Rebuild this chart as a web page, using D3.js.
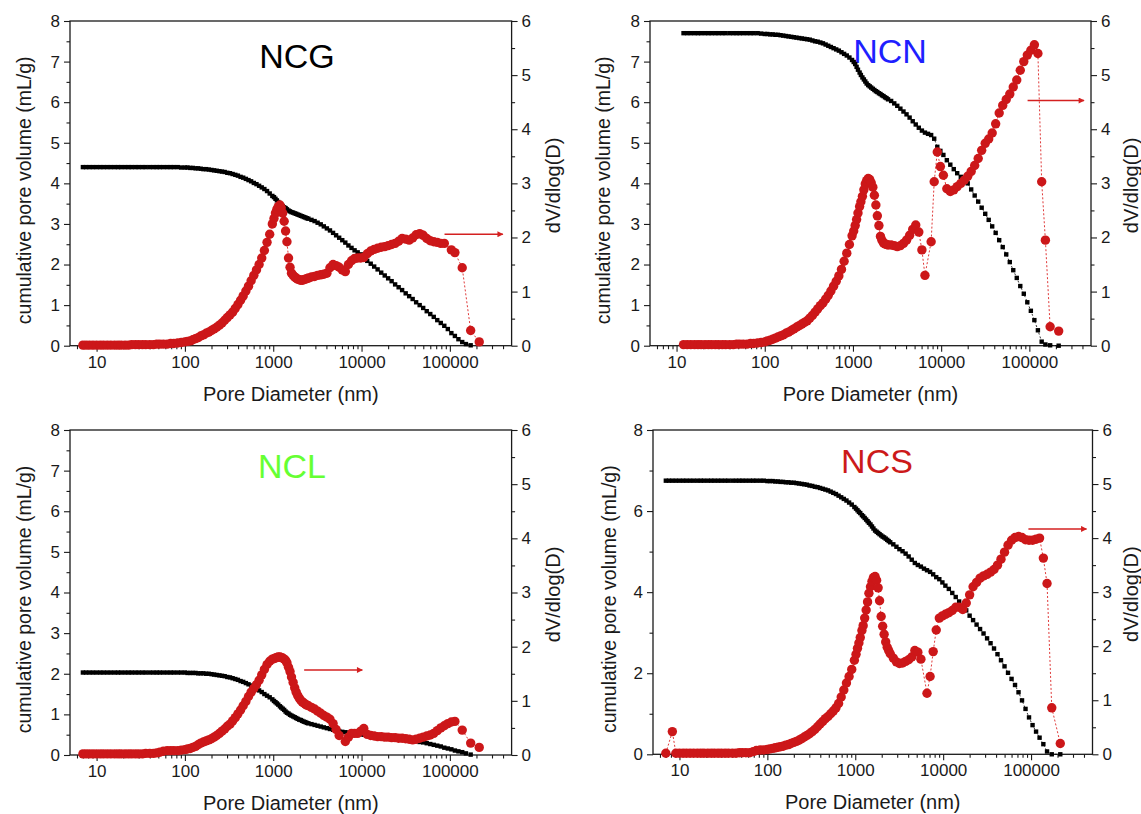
<!DOCTYPE html>
<html>
<head>
<meta charset="utf-8">
<script src="https://cdn.jsdelivr.net/npm/d3@7"></script>
<style>
  html, body { margin: 0; padding: 0; background: #ffffff; }
  svg text { font-family: "Liberation Sans", Arial, Helvetica, sans-serif; }
</style>
</head>
<body>
<svg id="chart" width="1141" height="814"></svg>
<script>
// ---------------- DATA ----------------
// Pore diameters (nm), shared measurement grid
const poreDiameter = [
  7.0,7.6,8.3,9.1,10,11,12,13.2,14.5,16,17.5,19,21,23,25,27.5,30,33,36,40,44,48,52,57,63,69,75,83,91,
  100,107,115,123,132,141,151,162,174,186,200,214,229,246,263,282,302,324,347,372,398,427,457,490,525,562,603,646,692,741,794,851,912,977,
  1020,1060,1100,1140,1190,1230,1280,1330,1380,1430,1490,1550,1610,1680,1750,1820,1890,1970,2050,2130,2220,2310,2400,2500,
  2710,2940,3180,3450,3740,4050,4390,4760,5150,5580,6050,6550,7100,7700,8340,9040,9800,
  10600,11600,12700,13900,15200,16700,18300,20000,21900,24000,26300,28800,31600,34600,37900,41500,45500,49900,54700,60000,65700,72000,78900,86500,94800,104000,114000,125000,
  138000,152000,172000,215000
];

// NCG
const ncgCumulative = [
  4.40,4.40,4.40,4.40,4.40,4.40,4.40,4.40,4.40,4.40,4.40,4.40,4.40,4.40,4.40,4.40,4.40,4.40,4.40,4.40,4.40,4.40,4.40,4.40,4.40,4.40,4.40,4.40,4.39,
  4.39,4.39,4.38,4.38,4.37,4.37,4.36,4.35,4.35,4.34,4.33,4.32,4.31,4.30,4.29,4.28,4.26,4.25,4.23,4.21,4.19,4.16,4.14,4.11,4.08,4.05,4.01,3.98,3.94,3.90,3.86,3.81,3.75,3.69,
  3.66,3.62,3.58,3.54,3.50,3.47,3.44,3.41,3.39,3.36,3.33,3.31,3.29,3.28,3.26,3.25,3.23,3.22,3.20,3.19,3.17,3.16,3.14,3.13,
  3.10,3.07,3.03,2.99,2.94,2.89,2.84,2.78,2.72,2.66,2.60,2.54,2.47,2.41,2.35,2.30,2.25,
  2.17,2.09,2.02,1.95,1.88,1.80,1.73,1.66,1.59,1.51,1.44,1.37,1.29,1.22,1.15,1.07,1.00,0.93,0.85,0.78,0.71,0.63,0.56,0.49,0.41,0.31,0.24,0.16,
  0.09,0.04,0.01,null
];
const ncgDV = [
  0.01,0.01,0.01,0.01,0.01,0.01,0.01,0.01,0.01,0.01,0.01,0.01,0.01,0.01,0.02,0.02,0.02,0.02,0.02,0.02,0.02,0.03,0.03,0.03,0.03,0.04,0.04,0.05,0.06,
  0.07,0.08,0.09,0.11,0.13,0.15,0.18,0.20,0.23,0.25,0.28,0.31,0.34,0.38,0.42,0.47,0.52,0.57,0.62,0.69,0.76,0.84,0.92,1.01,1.10,1.20,1.30,1.40,1.50,1.62,1.76,1.91,2.06,2.25,
  2.35,2.45,2.52,2.57,2.60,2.55,2.45,2.30,2.12,1.92,1.62,1.45,1.34,1.30,1.27,1.25,1.23,1.22,1.21,1.21,1.22,1.23,1.24,1.25,
  1.27,1.28,1.30,1.31,1.32,1.34,1.44,1.50,1.48,1.45,1.40,1.37,1.50,1.57,1.61,1.62,1.62,
  1.63,1.70,1.75,1.78,1.80,1.82,1.83,1.85,1.87,1.89,1.93,1.98,1.97,1.95,1.99,2.05,2.07,2.04,1.98,1.94,1.92,1.91,1.89,1.89,null,1.77,1.72,null,
  1.44,null,0.28,0.07
];

// NCN
const ncnCumulative = [
  null,null,null,null,null,null,7.70,7.70,7.70,7.70,7.70,7.70,7.70,7.70,7.70,7.70,7.70,7.70,7.70,7.70,7.70,7.70,7.70,7.70,7.70,7.70,7.70,7.70,7.69,
  7.68,7.68,7.67,7.67,7.66,7.66,7.65,7.64,7.63,7.62,7.61,7.60,7.59,7.58,7.57,7.56,7.55,7.54,7.52,7.50,7.49,7.47,7.45,7.42,7.39,7.36,7.33,7.30,7.27,7.23,7.19,7.15,7.10,7.04,
  6.99,6.94,6.87,6.80,6.73,6.67,6.61,6.56,6.51,6.46,6.42,6.39,6.36,6.33,6.30,6.27,6.25,6.22,6.20,6.17,6.15,6.12,6.10,6.07,
  6.03,5.97,5.91,5.84,5.77,5.70,5.62,5.53,5.45,5.37,5.30,5.25,5.22,5.19,5.10,4.90,4.80,
  4.70,4.57,4.46,4.35,4.25,4.16,4.08,4.00,3.85,3.70,3.55,3.40,3.25,3.10,2.94,2.78,2.60,2.43,2.25,2.06,1.86,1.67,1.47,1.28,1.07,0.86,0.63,0.38,
  0.10,0.03,0.01,0.00
];
const ncnDV = [
  null,null,null,null,null,null,0.02,0.02,0.02,0.02,0.02,0.02,0.02,0.02,0.02,0.02,0.02,0.02,0.02,0.02,0.02,0.03,0.03,0.03,0.03,0.04,0.04,0.05,0.06,
  0.07,0.09,0.10,0.12,0.14,0.16,0.18,0.20,0.23,0.25,0.28,0.31,0.34,0.37,0.40,0.43,0.46,0.51,0.56,0.62,0.68,0.74,0.79,0.86,0.93,1.01,1.10,1.19,1.29,1.41,1.56,1.71,1.87,2.03,
  2.12,2.22,2.33,2.45,2.57,2.66,2.76,2.88,2.99,3.05,3.09,3.07,3.01,2.93,2.78,2.60,2.40,2.22,2.02,1.95,1.90,1.88,1.87,1.86,
  1.86,1.85,1.83,1.85,1.89,1.95,2.04,2.15,2.23,2.10,1.77,1.30,null,1.92,3.03,3.58,3.31,
  3.15,2.90,2.85,2.88,2.94,3.00,3.06,3.13,3.22,3.33,3.46,3.61,3.74,3.82,3.93,4.10,4.30,4.44,4.55,4.65,4.78,4.91,5.09,5.25,5.37,5.46,5.56,5.40,
  3.03,1.95,0.35,0.27
];

// NCL
const nclCumulative = [
  2.03,2.03,2.03,2.03,2.03,2.03,2.03,2.03,2.03,2.03,2.03,2.03,2.03,2.03,2.03,2.03,2.03,2.03,2.03,2.03,2.03,2.03,2.03,2.03,2.03,2.03,2.03,2.03,2.03,
  2.03,2.02,2.02,2.02,2.02,2.01,2.01,2.01,2.00,2.00,1.99,1.98,1.97,1.96,1.95,1.94,1.92,1.91,1.89,1.87,1.85,1.82,1.80,1.77,1.74,1.71,1.67,1.63,1.59,1.55,1.50,1.46,1.42,1.37,
  1.33,1.30,1.27,1.24,1.20,1.17,1.14,1.11,1.07,1.04,1.02,0.99,0.97,0.95,0.93,0.91,0.89,0.87,0.86,0.84,0.82,0.81,0.79,0.78,
  0.76,0.74,0.72,0.70,0.68,0.66,0.64,0.62,0.61,0.59,0.57,0.56,0.55,0.54,0.53,0.52,0.51,
  0.50,0.49,0.48,0.48,0.47,0.46,0.46,0.45,0.44,0.43,0.42,0.40,0.38,0.37,0.35,0.34,0.32,0.31,0.29,0.27,0.25,0.23,0.21,0.18,0.16,0.14,0.11,0.09,
  0.07,0.04,0.01,null
];
const nclDV = [
  0.02,0.02,0.02,0.02,0.02,0.02,0.02,0.02,0.02,0.02,0.02,0.02,0.02,0.02,0.02,0.02,0.02,0.02,0.03,0.03,0.03,0.04,0.05,0.07,0.08,0.08,0.08,0.08,0.09,
  0.10,0.11,0.12,0.14,0.16,0.19,0.22,0.24,0.26,0.28,0.30,0.33,0.36,0.40,0.44,0.48,0.53,0.57,0.63,0.69,0.76,0.83,0.91,0.99,1.08,1.16,1.23,1.30,1.38,1.48,1.58,1.67,1.73,1.77,
  1.78,1.79,1.80,1.81,1.81,1.80,1.79,1.77,1.75,1.70,1.62,1.54,1.44,1.34,1.24,1.16,1.10,1.05,1.01,0.98,0.96,0.94,0.92,0.91,
  0.88,0.85,0.81,0.77,0.73,0.70,0.66,0.58,0.47,0.36,null,0.25,0.33,0.40,0.40,0.40,0.44,
  0.49,0.38,0.36,0.35,0.34,0.34,0.33,0.33,0.32,0.32,0.31,0.31,0.30,0.29,0.28,0.29,0.31,0.33,0.35,0.37,0.40,0.45,0.50,0.54,0.58,0.61,0.62,null,
  0.46,null,0.22,0.14
];

// NCS
const ncsCumulative = [
  6.75,6.75,6.75,6.75,6.75,6.75,6.75,6.75,6.75,6.75,6.75,6.75,6.75,6.75,6.75,6.75,6.75,6.75,6.75,6.75,6.75,6.75,6.75,6.75,6.75,6.75,6.75,6.75,6.75,
  6.74,6.74,6.74,6.73,6.73,6.72,6.72,6.71,6.71,6.70,6.70,6.69,6.68,6.67,6.66,6.65,6.63,6.62,6.60,6.59,6.57,6.55,6.53,6.51,6.48,6.45,6.42,6.38,6.34,6.30,6.26,6.21,6.16,6.10,
  6.06,6.02,5.98,5.95,5.90,5.87,5.83,5.79,5.75,5.71,5.67,5.62,5.57,5.52,5.49,5.46,5.43,5.40,5.37,5.35,5.32,5.29,5.26,5.23,
  5.18,5.12,5.06,5.01,4.95,4.88,4.80,4.72,4.67,4.63,4.58,4.54,4.50,4.44,4.37,4.32,4.24,
  4.16,4.08,3.98,3.88,3.77,3.66,3.55,3.42,3.31,3.20,3.09,2.98,2.86,2.74,2.61,2.47,2.32,2.17,2.01,1.86,1.71,1.53,1.33,1.12,0.91,0.72,0.56,0.41,
  0.25,0.07,0.00,0.00
];
const ncsDV = [
  0.02,null,0.42,0.02,0.02,0.02,0.02,0.02,0.02,0.02,0.02,0.02,0.02,0.02,0.02,0.02,0.02,0.02,0.02,0.02,0.02,0.03,0.03,0.03,0.03,0.05,0.07,0.08,0.08,
  0.09,0.10,0.11,0.12,0.13,0.14,0.15,0.17,0.18,0.20,0.22,0.24,0.26,0.29,0.32,0.35,0.38,0.42,0.46,0.51,0.56,0.61,0.66,0.70,0.75,0.80,0.86,0.94,1.06,1.19,1.32,1.44,1.57,1.74,
  1.85,1.96,2.06,2.16,2.29,2.38,2.52,2.67,2.82,2.98,3.10,3.20,3.27,3.29,3.22,3.08,2.84,2.55,2.37,2.22,2.08,1.98,1.92,1.86,
  1.78,1.71,1.68,1.69,1.72,1.75,1.80,1.92,1.89,1.76,null,1.13,1.44,1.90,2.30,2.52,2.56,
  2.59,2.62,2.66,2.72,2.72,2.68,2.80,2.95,3.10,3.18,3.26,3.30,3.33,3.37,3.42,3.50,3.61,3.74,3.87,3.96,4.01,4.03,4.01,3.97,3.96,3.96,3.98,4.00,
  3.63,3.16,0.86,0.20
];

// Annotation arrows (pointing to the right-hand axis): start/end diameter (nm), level (dV/dlog(D))
const arrowFrom  = [87000, 95500, 2240, 93300];
const arrowTo    = [398000, 417000, 10200, 427000];
const arrowLevel = [2.06, 4.53, 1.57, 4.17];

// Axes
const xDomain = [5, 500000];
const xTickValues = [10, 100, 1000, 10000, 100000];
const xTickLabels = ["10", "100", "1000", "10000", "100000"];
const leftDomain = [0, 8];
const leftTickValues = [0, 1, 2, 3, 4, 5, 6, 7, 8];
const leftMinorValues = [0.5, 1.5, 2.5, 3.5, 4.5, 5.5, 6.5, 7.5];
const ncsLeftTickValues = [0, 2, 4, 6, 8];
const ncsLeftMinorValues = [1, 3, 5, 7];
const rightDomain = [0, 6];
const rightTickValues = [0, 1, 2, 3, 4, 5, 6];
const rightMinorValues = [0.5, 1.5, 2.5, 3.5, 4.5, 5.5];

const panelNames = ["NCG", "NCN", "NCL", "NCS"];
const xTitle = "Pore Diameter (nm)";
const leftTitle = "cumulative pore volume (mL/g)";
const rightTitle = "dV/dlog(D)";

// ---------------- LAYOUT / STYLE ----------------
const panels = [
  { name: panelNames[0], nameColor: "#000000", cum: ncgCumulative, dv: ncgDV,
    box: [70, 511.6, 21, 345.7], nameAt: [297, 68], lt: leftTickValues, lm: leftMinorValues, leftOff: 46, rightOff: 41 },
  { name: panelNames[1], nameColor: "#1f1fff", cum: ncnCumulative, dv: ncnDV,
    box: [650, 1091, 21, 345.7], nameAt: [890, 63], lt: leftTickValues, lm: leftMinorValues, leftOff: 47, rightOff: 40 },
  { name: panelNames[2], nameColor: "#66ff33", cum: nclCumulative, dv: nclDV,
    box: [70, 511.6, 430, 755], nameAt: [292, 478], lt: leftTickValues, lm: leftMinorValues, leftOff: 46, rightOff: 41 },
  { name: panelNames[3], nameColor: "#cc1a1a", cum: ncsCumulative, dv: ncsDV,
    box: [653, 1092.5, 430, 754.3], nameAt: [877, 473], lt: ncsLeftTickValues, lm: ncsLeftMinorValues, leftOff: 44, rightOff: 38 }
];

const RED = "#cc1719";
const AXIS = "#1a1a1a";
const svg = d3.select("#chart");

svg.append("defs").append("marker")
  .attr("id", "arrowhead").attr("viewBox", "0 0 10 10")
  .attr("refX", 9).attr("refY", 5)
  .attr("markerWidth", 8).attr("markerHeight", 6)
  .attr("markerUnits", "userSpaceOnUse")
  .attr("orient", "auto")
  .append("path").attr("d", "M0,0 L10,5 L0,10 Z").attr("fill", "#d42020");

function styleAxis(sel, fontSize) {
  sel.select(".domain").remove();
  sel.selectAll(".tick line").attr("stroke", AXIS).attr("stroke-width", 1.1);
  sel.selectAll(".tick text").attr("fill", "#1a1a1a").style("font-size", fontSize + "px")
     .style("font-family", '"Liberation Sans", Arial, sans-serif');
}

function drawPanel(p, idx) {
  const [x0, x1, y0, y1] = p.box;
  const g = svg.append("g");
  const x = d3.scaleLog().domain(xDomain).range([x0, x1]);
  const yL = d3.scaleLinear().domain(leftDomain).range([y1, y0]);
  const yR = d3.scaleLinear().domain(rightDomain).range([y1, y0]);

  // minor x ticks (2..9 of each decade)
  const xMinor = [];
  for (let e = 0; e <= 5; e++) {
    for (let m = 2; m <= 9; m++) {
      const v = m * Math.pow(10, e);
      if (v > xDomain[0] && v < xDomain[1]) xMinor.push(v);
    }
  }
  g.append("g").attr("transform", `translate(0,${y1})`)
    .call(d3.axisBottom(x).tickValues(xMinor).tickSize(3.5).tickFormat(""))
    .call(s => styleAxis(s, 17));
  g.append("g").attr("transform", `translate(0,${y1})`)
    .call(d3.axisBottom(x).tickValues(xTickValues).tickSize(6).tickPadding(4)
      .tickFormat((d, i) => xTickLabels[i]))
    .call(s => styleAxis(s, 17));

  // left axis
  g.append("g").attr("transform", `translate(${x0},0)`)
    .call(d3.axisLeft(yL).tickValues(p.lm).tickSize(3.5).tickFormat(""))
    .call(s => styleAxis(s, 17));
  g.append("g").attr("transform", `translate(${x0},0)`)
    .call(d3.axisLeft(yL).tickValues(p.lt).tickSize(6).tickPadding(4).tickFormat(d3.format("d")))
    .call(s => styleAxis(s, 17));

  // right axis
  g.append("g").attr("transform", `translate(${x1},0)`)
    .call(d3.axisRight(yR).tickValues(rightMinorValues).tickSize(3.5).tickFormat(""))
    .call(s => styleAxis(s, 17));
  g.append("g").attr("transform", `translate(${x1},0)`)
    .call(d3.axisRight(yR).tickValues(rightTickValues).tickSize(6).tickPadding(4).tickFormat(d3.format("d")))
    .call(s => styleAxis(s, 17));

  // frame
  g.append("rect").attr("x", x0).attr("y", y0).attr("width", x1 - x0).attr("height", y1 - y0)
    .attr("fill", "none").attr("stroke", AXIS).attr("stroke-width", 1.3);

  // axis titles
  g.append("text").attr("x", (x0 + x1) / 2).attr("y", y1 + 55)
    .attr("text-anchor", "middle").style("font-size", "20px").attr("fill", "#1a1a1a").text(xTitle);
  g.append("text").attr("transform", `translate(${x0 - p.leftOff},${(y0 + y1) / 2 + 7}) rotate(-90)`)
    .attr("text-anchor", "middle").attr("dominant-baseline", "central")
    .style("font-size", "19.5px").attr("fill", "#1a1a1a").text(leftTitle);
  g.append("text").attr("transform", `translate(${x1 + p.rightOff},${(y0 + y1) / 2 + 2}) rotate(-90)`)
    .attr("text-anchor", "middle").attr("dominant-baseline", "central")
    .style("font-size", "20px").attr("fill", "#1a1a1a").text(rightTitle);

  // sample name
  g.append("text").attr("x", p.nameAt[0]).attr("y", p.nameAt[1])
    .attr("text-anchor", "middle").style("font-size", "34px").attr("fill", p.nameColor).text(p.name);

  // cumulative series (black squares)
  const cumPts = poreDiameter.map((d, i) => ({ d, v: p.cum[i] })).filter(o => o.v !== null && o.v !== undefined);
  g.append("path").datum(cumPts)
    .attr("d", d3.line().x(o => x(o.d)).y(o => yL(o.v)))
    .attr("fill", "none").attr("stroke", "#000").attr("stroke-width", 0.8).attr("stroke-dasharray", "2,2");
  g.selectAll("rect.cum").data(cumPts).enter().append("rect").attr("class", "cum")
    .attr("x", o => x(o.d) - 2.2).attr("y", o => yL(o.v) - 2.2)
    .attr("width", 4.4).attr("height", 4.4).attr("fill", "#000");

  // dV/dlog(D) series (red circles)
  const dvPts = poreDiameter.map((d, i) => ({ d, v: p.dv[i] })).filter(o => o.v !== null && o.v !== undefined);
  g.append("path").datum(dvPts)
    .attr("d", d3.line().x(o => x(o.d)).y(o => yR(o.v)))
    .attr("fill", "none").attr("stroke", "#e03a3a").attr("stroke-width", 1).attr("stroke-dasharray", "2,2");
  g.selectAll("circle.dv").data(dvPts).enter().append("circle").attr("class", "dv")
    .attr("cx", o => x(o.d)).attr("cy", o => yR(o.v)).attr("r", 4.7).attr("fill", RED);

  // arrow
  g.append("line")
    .attr("x1", x(arrowFrom[idx])).attr("x2", x(arrowTo[idx]))
    .attr("y1", yR(arrowLevel[idx])).attr("y2", yR(arrowLevel[idx]))
    .attr("stroke", "#d42020").attr("stroke-width", 1.5).attr("marker-end", "url(#arrowhead)");
}

panels.forEach((p, i) => drawPanel(p, i));
</script>
</body>
</html>
